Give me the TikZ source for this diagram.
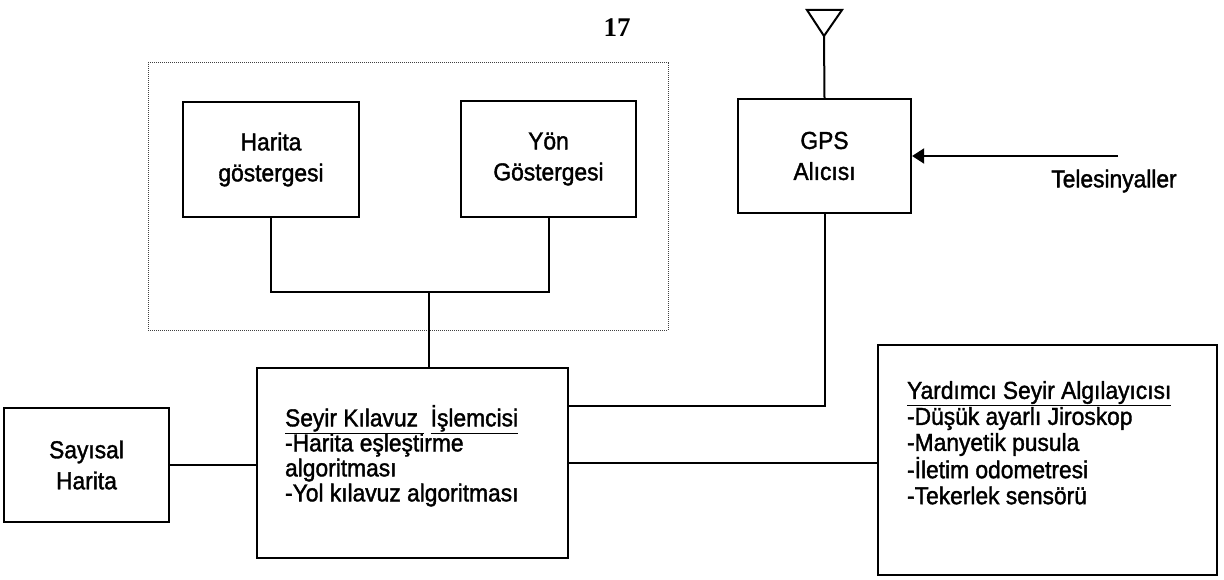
\documentclass[tikz,border=0pt]{standalone}
\usepackage{fontspec}
\setmainfont{Liberation Sans}[FakeStretch=0.93,FakeBold=1.5]
\newfontfamily\sayfafont{Liberation Serif}
\usetikzlibrary{positioning,arrows.meta}
\tikzset{
  kutu/.style={draw,line width=2.2pt,inner sep=0pt,align=center,font=\fontsize{24.5}{31}\selectfont},
  liste/.style={inner sep=0pt,align=left,font=\fontsize{24.5}{25}\selectfont},
  grup/.style={draw,densely dotted,line width=1pt,black!75},
  hat/.style={line width=2pt},
}

\begin{document}
\begin{tikzpicture}[x=1pt,y=-1pt,>={Triangle[length=12pt,width=15pt]}]
\useasboundingbox (0,0) rectangle (1224,580);

\node[font=\sayfafont\bfseries\fontsize{27}{27}\selectfont] (sayfa) at (617,28) {17};

% gosterge grubu
\node[grup,minimum width=520pt,minimum height=267pt] (panel) at (408,196.5) {};
\node[kutu,minimum width=176pt,minimum height=115pt] (harita) at (271,159.5) {Harita\\göstergesi};
\node[kutu,minimum width=175pt,minimum height=116pt] (yon) at (548.5,159) {Yön\\Göstergesi};

% gps
\node[kutu,minimum width=173pt,minimum height=114pt] (gps) at (824.5,156) {GPS\\Alıcısı};
\coordinate (anten) at (824,36);
\draw[hat] (anten) -- ++(-17,-26) -- ++(35,0) -- cycle;
\draw[hat] (anten) -- (gps.north);
\coordinate (sinyal) at (1118,156);
\node[liste] (tele) at (1114,181) {Telesinyaller};
\draw[hat,->] (sinyal) -- (gps.east);

% alt sira
\node[kutu,minimum width=165pt,minimum height=114pt] (sayisal) at (86.5,465) {Sayısal\\Harita};
\node[kutu,minimum width=311pt,minimum height=190pt] (islemci) at (412.5,463) {};
\node[liste,below right=38pt and 29pt of islemci.north west] (islemciyazi)
  {\underline{Seyir Kılavuz\ }\ \underline{İşlemcisi}\\-Harita eşleştirme\\algoritması\\-Yol kılavuz algoritması};
\node[kutu,minimum width=339pt,minimum height=230pt] (yardimci) at (1047.5,460) {};
\node[liste,below right=37pt and 30pt of yardimci.north west,font=\fontsize{24.5}{26}\selectfont] (yardimciyazi)
  {\underline{Yardımcı Seyir Algılayıcısı}\\-Düşük ayarlı Jiroskop\\-Manyetik pusula\\-İletim odometresi\\-Tekerlek sensörü};

% baglantilar
\coordinate (dugum) at (429,292);
\draw[hat] (harita.south) |- (dugum) -| (yon.south);
\draw[hat] (dugum) -- (dugum |- islemci.north);
\draw[hat] (gps.south) |- ([yshift=57pt]islemci.east);
\draw[hat] (islemci.east) -- (islemci.east -| yardimci.west);
\draw[hat] (sayisal.east) -- (sayisal.east -| islemci.west);

\end{tikzpicture}
\end{document}
